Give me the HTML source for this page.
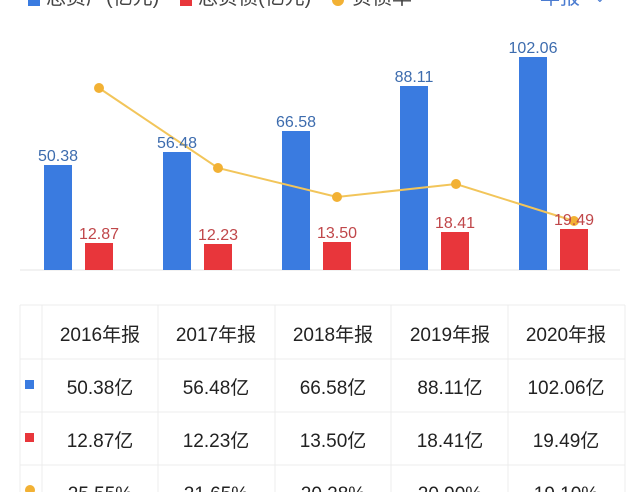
<!DOCTYPE html>
<html><head><meta charset="utf-8"><style>
body{margin:0;background:#fff;width:640px;height:492px;overflow:hidden;font-family:"Liberation Sans","Noto Sans CJK SC",sans-serif}
</style></head><body>
<svg width="640" height="492" xmlns="http://www.w3.org/2000/svg" font-family="Liberation Sans, Noto Sans CJK SC, sans-serif">
<!-- legend (cut off) -->
<g font-size="20" fill="#444">
<rect x="28" y="-6" width="12" height="12" fill="#3a7be0"/>
<text x="46" y="4">总资产(亿元)</text>
<rect x="180" y="-6" width="12" height="12" fill="#e8363b"/>
<text x="198" y="4">总负债(亿元)</text>
<circle cx="338" cy="0" r="6" fill="#f2b134"/>
<text x="352" y="4">负债率</text>
<text x="540" y="4" fill="#4a7bd0">年报</text>
<text x="594" y="2" fill="#4a7bd0" font-size="14">⌄</text>
</g>
<line x1="20" y1="270" x2="620" y2="270" stroke="#e6e6e6"/>
<g fill="#3a7be0">
<rect x="44" y="165" width="28" height="105"/>
<rect x="163" y="152" width="28" height="118"/>
<rect x="282" y="131" width="28" height="139"/>
<rect x="400" y="86" width="28" height="184"/>
<rect x="519" y="57" width="28" height="213"/>
</g>
<g fill="#e8363b">
<rect x="85" y="243" width="28" height="27"/>
<rect x="204" y="244" width="28" height="26"/>
<rect x="323" y="242" width="28" height="28"/>
<rect x="441" y="232" width="28" height="38"/>
<rect x="560" y="229" width="28" height="41"/>
</g>
<polyline points="99,88 218,168 337,197 456,184 574,221" fill="none" stroke="#f2c55a" stroke-width="2"/>
<g fill="#f2b134">
<circle cx="99" cy="88" r="5"/><circle cx="218" cy="168" r="5"/><circle cx="337" cy="197" r="5"/><circle cx="456" cy="184" r="5"/><circle cx="574" cy="221" r="5"/>
</g>
<g font-size="16" fill="#3d6cae" text-anchor="middle">
<text x="58" y="161">50.38</text>
<text x="177" y="148">56.48</text>
<text x="296" y="127">66.58</text>
<text x="414" y="82">88.11</text>
<text x="533" y="53">102.06</text>
</g>
<g font-size="16" fill="#c0474a" text-anchor="middle">
<text x="99" y="239">12.87</text>
<text x="218" y="240">12.23</text>
<text x="337" y="238">13.50</text>
<text x="455" y="228">18.41</text>
<text x="574" y="225">19.49</text>
</g>
<!-- table -->
<g stroke="#ececec" stroke-width="1">
<line x1="20" y1="305" x2="625" y2="305"/>
<line x1="20" y1="359" x2="625" y2="359"/>
<line x1="20" y1="412" x2="625" y2="412"/>
<line x1="20" y1="465" x2="625" y2="465"/>
<line x1="20" y1="305" x2="20" y2="492"/>
<line x1="42" y1="305" x2="42" y2="492"/>
<line x1="158" y1="305" x2="158" y2="492"/>
<line x1="275" y1="305" x2="275" y2="492"/>
<line x1="391" y1="305" x2="391" y2="492"/>
<line x1="508" y1="305" x2="508" y2="492"/>
<line x1="625" y1="305" x2="625" y2="492"/>
</g>
<rect x="25" y="380" width="9" height="9" fill="#3a7be0"/>
<rect x="25" y="433" width="9" height="9" fill="#e8363b"/>
<circle cx="30" cy="490" r="5" fill="#f2b134"/>
<g font-size="19" fill="#222" text-anchor="middle">
<text x="100" y="341">2016年报</text><text x="216" y="341">2017年报</text><text x="333" y="341">2018年报</text><text x="450" y="341">2019年报</text><text x="566" y="341">2020年报</text>
<text x="100" y="394">50.38亿</text><text x="216" y="394">56.48亿</text><text x="333" y="394">66.58亿</text><text x="450" y="394">88.11亿</text><text x="566" y="394">102.06亿</text>
<text x="100" y="447">12.87亿</text><text x="216" y="447">12.23亿</text><text x="333" y="447">13.50亿</text><text x="450" y="447">18.41亿</text><text x="566" y="447">19.49亿</text>
<text x="100" y="500">25.55%</text><text x="216" y="500">21.65%</text><text x="333" y="500">20.28%</text><text x="450" y="500">20.90%</text><text x="566" y="500">19.10%</text>
</g>
</svg>
</body></html>
